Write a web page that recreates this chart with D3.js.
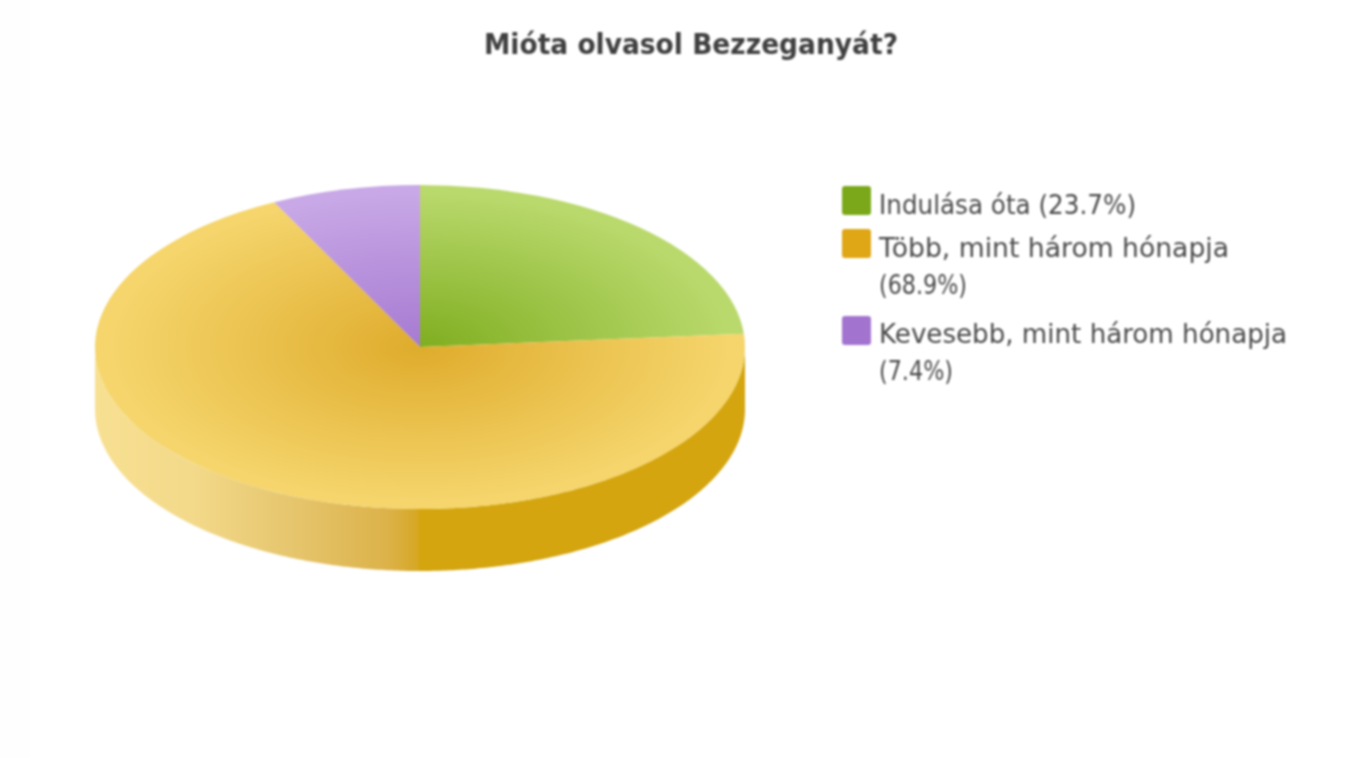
<!DOCTYPE html>
<html><head><meta charset="utf-8">
<script src="https://cdn.jsdelivr.net/npm/d3@7"></script>
<style>html,body{margin:0;background:#fff}svg{display:block;filter:blur(0.9px)}</style>
</head><body><svg id="c" width="1347" height="758"></svg>
<script>
const titleText = "Mióta olvasol Bezzeganyát?";
const categories = ["Indulása óta", "Több, mint három hónapja", "Kevesebb, mint három hónapja"];
const values = [23.7, 68.9, 7.4];
const baseColors = ["#7aa81a", "#dfa716", "#a274cf"];
const centerColors = ["#7fae20", "#dfac2c", "#a67ad2"];
const edgeColors = ["#b9d96c", "#f5d56c", "#c8a8e6"];
const legendLines = [["Indulása óta (23.7%)"], ["Több, mint három hónapja", "(68.9%)"], ["Kevesebb, mint három hónapja", "(7.4%)"]];
const legendWidths = [[257], [350, 88], [408, 74]];

const W = 1347, H = 758, cx = 420, cy = 347, rx = 325, ry = 162, depth = 62;
const svg = d3.select("#c");
svg.append("rect").attr("width", W).attr("height", H).attr("fill", "#fefefe");
svg.append("rect").attr("x", 30).attr("width", W - 30).attr("height", H).attr("fill", "#ffffff");
const defs = svg.append("defs");

const pie = d3.pie().sort(null).value(d => d);
const arcs = pie(values);

// side wall gradient
const sg = defs.append("linearGradient").attr("id", "side")
  .attr("gradientUnits", "userSpaceOnUse").attr("x1", cx - rx).attr("x2", cx + rx).attr("y1", 0).attr("y2", 0);
[[0, "#f8e092"], [0.15, "#f3d98a"], [0.3, "#e6c66e"], [0.45, "#dcb24a"], [0.495, "#d6a826"], [0.5, "#d4a50e"], [1, "#d4a50e"]]
  .forEach(s => sg.append("stop").attr("offset", s[0]).attr("stop-color", s[1]));

// top gradients in unit-circle space
arcs.forEach((a, i) => {
  const g = defs.append("radialGradient").attr("id", "topGrad" + i)
    .attr("gradientUnits", "userSpaceOnUse").attr("cx", 0).attr("cy", 0).attr("r", rx);
  g.append("stop").attr("offset", 0).attr("stop-color", centerColors[i]);
  g.append("stop").attr("offset", 0.95).attr("stop-color", edgeColors[i]);
});

// extruded wall: only the front half of the ellipse is visible
const wall = d3.area()
  .x(t => cx + rx * Math.sin(t))
  .y0(t => cy - ry * Math.cos(t))
  .y1(t => cy - ry * Math.cos(t) + depth);
arcs.forEach(a => {
  const s = Math.max(a.startAngle, Math.PI / 2), e = Math.min(a.endAngle, 3 * Math.PI / 2);
  if (e <= s) return;
  const ts = d3.range(s, e, 0.01).concat([e]);
  svg.append("path").attr("d", wall(ts)).attr("fill", "url(#side)");
});

// top face
const arc = d3.arc().innerRadius(0).outerRadius(rx);
const topFace = svg.append("g").attr("transform", `translate(${cx},${cy}) scale(1,${ry / rx})`);
topFace.selectAll("path").data(arcs).join("path")
  .attr("d", arc).attr("fill", (d, i) => `url(#topGrad${i})`);

// title
svg.append("text").text(titleText).attr("x", 484).attr("y", 54)
  .attr("textLength", 414).attr("lengthAdjust", "spacingAndGlyphs")
  .attr("font-family", "DejaVu Sans").attr("font-weight", "bold").attr("font-size", 28.5).attr("fill", "#404040");

// legend
const swatchY = d3.scaleOrdinal().domain(categories).range([186, 229, 316]);
const baseY = [[214], [257, 294], [343, 380]];
const lg = svg.append("g");
categories.forEach((c, i) => {
  lg.append("rect").attr("x", 842).attr("y", swatchY(c)).attr("width", 29).attr("height", 29).attr("rx", 3)
    .attr("fill", baseColors[i]);
  legendLines[i].forEach((t, j) => {
    lg.append("text").text(t).attr("x", 879).attr("y", baseY[i][j])
      .attr("textLength", legendWidths[i][j]).attr("lengthAdjust", "spacingAndGlyphs")
      .attr("font-family", "DejaVu Sans").attr("font-size", 26).attr("fill", "#4a4a4a");
  });
});
</script></body></html>
